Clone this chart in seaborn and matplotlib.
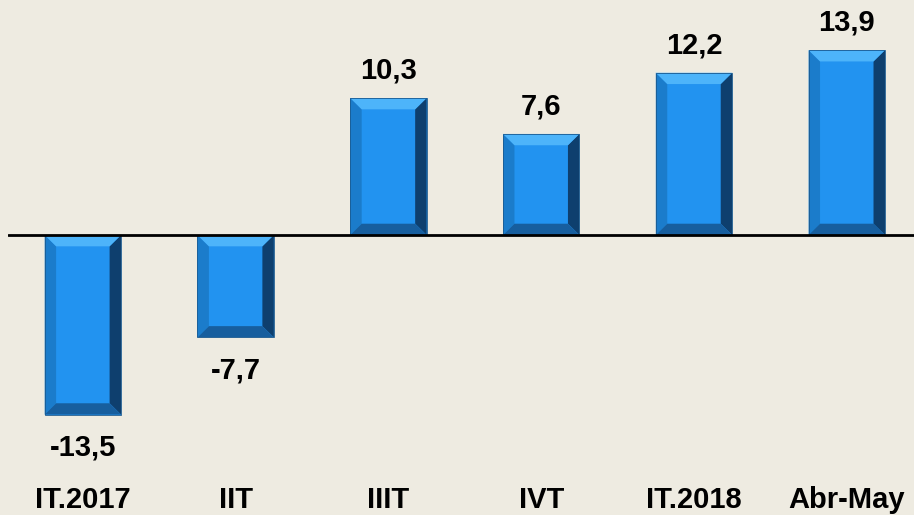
import matplotlib
matplotlib.use("Agg")
import matplotlib.pyplot as plt
from matplotlib.patches import Polygon
import seaborn as sns
import pandas as pd

# data
periods = ["IT.2017", "IIT", "IIIT", "IVT", "IT.2018", "Abr-May"]
values = [-13.5, -7.7, 10.3, 7.6, 12.2, 13.9]
value_labels = ["-13,5", "-7,7", "10,3", "7,6", "12,2", "13,9"]

df = pd.DataFrame({"period": periods, "value": values})

bg = "#EEEBE1"
blue = "#2293F0"

sns.set_style("white")
plt.rcParams["font.family"] = ["Liberation Sans", "DejaVu Sans"]

fig = plt.figure(figsize=(9.14, 5.15), dpi=100, facecolor=bg)
ax = fig.add_axes([8 / 914, 0, 906 / 914, 1])
ax.set_facecolor(bg)

sns.barplot(data=df, x="period", y="value", color=blue, width=0.5,
            saturation=1, ax=ax, edgecolor="none")

ax.set_xlim(-0.49, 5.44)
ax.set_ylim(-21.05, 17.67)
ax.axhline(0, color="black", lw=2, zorder=5)

# bevel look on each bar
bx, by = 0.075, 0.85
for p in list(ax.patches):
    x0, w = p.get_x(), p.get_width()
    y0, h = p.get_y(), p.get_height()
    lo, hi = min(y0, y0 + h), max(y0, y0 + h)
    x1 = x0 + w
    top = [(x0, hi), (x1, hi), (x1 - bx, hi - by), (x0 + bx, hi - by)]
    bot = [(x0, lo), (x1, lo), (x1 - bx, lo + by), (x0 + bx, lo + by)]
    left = [(x0, lo), (x0, hi), (x0 + bx, hi - by), (x0 + bx, lo + by)]
    right = [(x1, lo), (x1, hi), (x1 - bx, hi - by), (x1 - bx, lo + by)]
    for pts, c in [(left, "#1B7CCB"), (right, "#0E3F6E"),
                   (top, "#4DB4FA"), (bot, "#175E9E")]:
        ax.add_patch(Polygon(pts, closed=True, facecolor=c, edgecolor="none", zorder=3))
    ax.add_patch(Polygon([(x0, lo), (x1, lo), (x1, hi), (x0, hi)], closed=True,
                         facecolor="none", edgecolor="#1A5A90", lw=0.6, zorder=4))

# value labels
for i, (v, lab) in enumerate(zip(values, value_labels)):
    if v >= 0:
        ax.text(i, v + 1.45, lab, ha="center", va="baseline", fontsize=21,
                fontweight="bold", color="black")
    else:
        ax.text(i, v - 3.1, lab, ha="center", va="baseline", fontsize=21,
                fontweight="bold", color="black")

# category labels
for i, lab in enumerate(periods):
    ax.text(i, -20.55, lab, ha="center", va="baseline", fontsize=21,
            fontweight="bold", color="black")

ax.set_xticks([])
ax.set_yticks([])
ax.set_xlabel("")
ax.set_ylabel("")
for s in ax.spines.values():
    s.set_visible(False)

fig.savefig("out.png", dpi=100, facecolor=bg)
